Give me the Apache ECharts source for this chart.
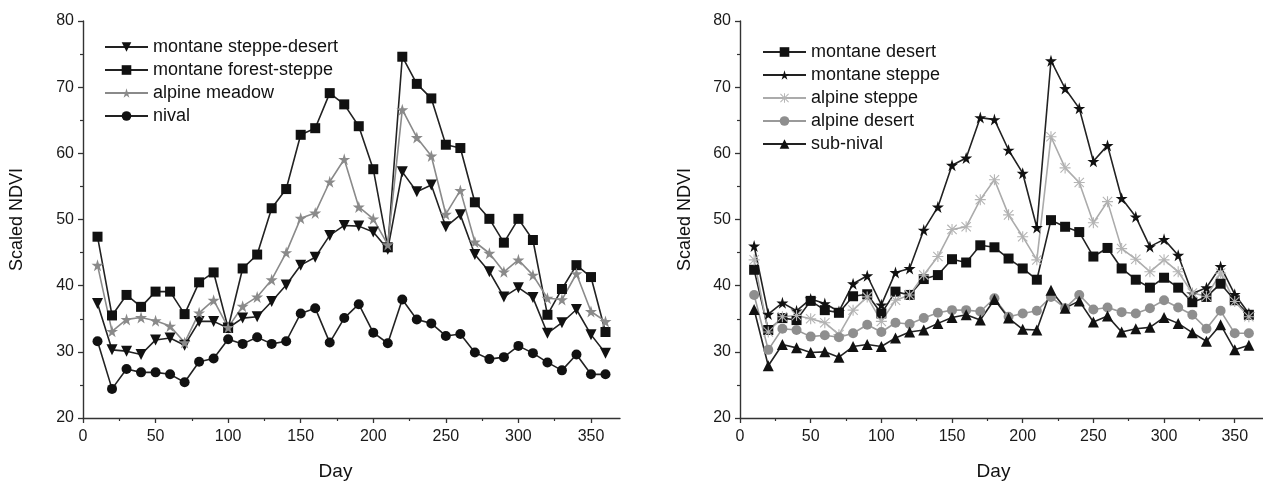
<!DOCTYPE html>
<html>
<head>
<meta charset="utf-8">
<script src="https://cdn.jsdelivr.net/npm/echarts@6/dist/echarts.min.js"></script>
<style>
  html, body { margin: 0; padding: 0; background: #fff; }
  #chart { width: 1263px; height: 487px; }
</style>
</head>
<body>
<div id="chart"></div>
<script>
// day of year (x values, shared by every series)
var days = [10, 20, 30, 40, 50, 60, 70, 80, 90, 100, 110, 120, 130, 140, 150, 160, 170, 180,
    190, 200, 210, 220, 230, 240, 250, 260, 270, 280, 290, 300, 310, 320, 330, 340, 350, 360];

var xTicks = [0, 50, 100, 150, 200, 250, 300, 350];

// left panel
var steppeDesert = [37.3, 30.3, 30.1, 29.6, 31.8, 32.1, 31.0, 34.6, 34.6, 33.6, 35.1, 35.3, 37.6, 40.1, 43.1, 44.3, 47.6, 49.1,
    49.0, 48.1, 45.5, 57.2, 54.2, 55.2, 48.9, 50.7, 44.7, 42.1, 38.3, 39.7, 38.2, 32.8, 34.4, 36.4, 32.6, 29.8];
var forestSteppe = [47.4, 35.5, 38.6, 36.8, 39.1, 39.1, 35.7, 40.5, 42.0, 33.6, 42.6, 44.7, 51.7, 54.6, 62.8, 63.8, 69.1, 67.4,
    64.1, 57.6, 45.8, 74.6, 70.5, 68.3, 61.3, 60.8, 52.6, 50.1, 46.5, 50.1, 46.9, 35.6, 39.5, 43.1, 41.3, 33.0];
var alpineMeadow = [43.1, 33.1, 34.9, 35.2, 34.7, 33.9, 31.4, 35.9, 37.8, 33.7, 36.9, 38.3, 40.9, 45.0, 50.2, 51.0, 55.7, 59.1,
    51.9, 50.1, 46.2, 66.6, 62.4, 59.6, 50.8, 54.4, 46.6, 44.9, 42.1, 43.9, 41.6, 38.1, 37.9, 41.8, 36.1, 34.6];
var nival = [31.6, 24.4, 27.4, 26.9, 26.9, 26.6, 25.4, 28.5, 29.0, 31.9, 31.2, 32.2, 31.2, 31.6, 35.8, 36.6, 31.4, 35.1,
    37.2, 32.9, 31.3, 37.9, 34.9, 34.3, 32.4, 32.7, 29.9, 28.9, 29.2, 30.9, 29.8, 28.4, 27.2, 29.6, 26.6, 26.6];

// right panel
var montaneDesert = [42.4, 33.3, 35.1, 34.8, 37.7, 36.3, 35.9, 38.4, 38.7, 35.8, 39.1, 38.6, 41.0, 41.6, 44.0, 43.5, 46.1, 45.8,
    44.1, 42.6, 40.9, 49.9, 48.9, 48.1, 44.4, 45.7, 42.6, 40.9, 39.7, 41.2, 39.7, 37.5, 38.3, 40.3, 37.8, 35.6];
var montaneSteppe = [46.0, 35.7, 37.4, 36.2, 38.0, 37.3, 36.1, 40.3, 41.5, 37.1, 42.0, 42.6, 48.4, 51.9, 58.2, 59.3, 65.4, 65.1,
    60.5, 57.0, 48.8, 74.0, 69.8, 66.8, 58.8, 61.2, 53.2, 50.4, 45.9, 47.0, 44.6, 38.8, 39.7, 42.9, 38.7, 35.8];
var alpineSteppe = [43.9, 33.0, 35.3, 35.5, 35.0, 34.4, 32.6, 36.3, 38.3, 34.6, 37.8, 38.6, 41.6, 44.4, 48.5, 48.9, 53.0, 56.0,
    50.7, 47.4, 43.9, 62.5, 57.8, 55.6, 49.5, 52.7, 45.6, 44.0, 42.1, 43.9, 42.1, 38.9, 38.4, 41.9, 37.6, 35.3];
var alpineDesert = [38.6, 30.3, 33.5, 33.3, 32.3, 32.5, 32.2, 32.8, 34.1, 33.0, 34.4, 34.2, 35.1, 35.9, 36.3, 36.3, 36.1, 38.1,
    35.3, 35.8, 36.2, 38.3, 36.6, 38.6, 36.4, 36.7, 36.0, 35.8, 36.6, 37.8, 36.7, 35.6, 33.5, 36.2, 32.8, 32.8];
var subNival = [36.4, 27.9, 31.1, 30.6, 29.9, 30.0, 29.2, 30.8, 31.1, 30.8, 32.1, 33.0, 33.3, 34.3, 35.2, 35.6, 34.8, 37.9,
    35.1, 33.4, 33.3, 39.3, 36.6, 37.7, 34.5, 35.4, 33.0, 33.5, 33.7, 35.2, 34.3, 32.9, 31.6, 34.1, 30.3, 31.0];

var STAR = 'path://M50,0 L61,35 L98,35 L68,57 L79,91 L50,70 L21,91 L32,57 L2,35 L39,35 Z';
var ASTER = 'path://M45,0 L55,0 L55,100 L45,100 Z M0,45 L100,45 L100,55 L0,55 Z ' +
    'M11,4 L96,89 L89,96 L4,11 Z M89,4 L96,11 L11,96 L4,89 Z';

var FONT = '"Liberation Sans", Arial, sans-serif';

function pairs(vals) {
    return days.map(function(d, i) { return [d, vals[i]]; });
}

function makeSeries(name, vals, idx, color, lineColor, symbol, size, rotate) {
    return {
        name: name,
        type: 'line',
        xAxisIndex: idx,
        yAxisIndex: idx,
        data: pairs(vals),
        symbol: symbol,
        symbolSize: size,
        symbolRotate: rotate || 0,
        showAllSymbol: true,
        lineStyle: { color: lineColor, width: 1.6 },
        itemStyle: { color: color, borderWidth: 0 },
        emphasis: { disabled: true },
        animation: false
    };
}

function xAxis(idx) {
    return {
        type: 'value', gridIndex: idx, min: 0, max: 370, interval: 50,
        name: 'Day', nameLocation: 'middle', nameGap: 44,
        nameTextStyle: { fontSize: 19, color: '#111', fontFamily: FONT, padding: idx === 0 ? [0, 32, 0, 0] : [0, 16, 0, 0] },
        axisLine: { show: true, lineStyle: { color: '#333', width: 1.4 } },
        axisTick: { show: true, length: 5, lineStyle: { color: '#333', width: 1.3 },
            customValues: xTicks },
        minorTick: { show: true, splitNumber: 2, length: 3, lineStyle: { color: '#333', width: 1.2 } },
        axisLabel: { fontSize: 16, color: '#1a1a1a', fontFamily: FONT, margin: 11, customValues: xTicks },
        splitLine: { show: false }
    };
}

function yAxis(idx) {
    return {
        type: 'value', gridIndex: idx, min: 20, max: 80, interval: 10,
        name: 'Scaled NDVI', nameLocation: 'middle', nameGap: idx === 0 ? 57 : 46,
        nameTextStyle: { fontSize: 18, color: '#111', fontFamily: FONT },
        axisLine: { show: true, lineStyle: { color: '#333', width: 1.4 } },
        axisTick: { show: true, length: 5, lineStyle: { color: '#333', width: 1.3 } },
        minorTick: { show: true, splitNumber: 2, length: 3, lineStyle: { color: '#333', width: 1.2 } },
        axisLabel: { fontSize: 16, color: '#1a1a1a', fontFamily: FONT, margin: 9 },
        splitLine: { show: false }
    };
}

function legend(names, left, top) {
    return {
        data: names,
        orient: 'vertical',
        left: left, top: top,
        itemWidth: 43, itemHeight: 12, itemGap: 3,
        textStyle: { fontSize: 18, color: '#111', fontFamily: FONT, lineHeight: 20 },
        selectedMode: false
    };
}

var chart = echarts.init(document.getElementById('chart'), null, { renderer: 'canvas' });

chart.setOption({
    backgroundColor: '#fff',
    animation: false,
    grid: [
        { left: 83, top: 21, width: 537, height: 397 },
        { left: 740, top: 21, width: 537, height: 397 }
    ],
    xAxis: [xAxis(0), xAxis(1)],
    yAxis: [yAxis(0), yAxis(1)],
    legend: [
        legend(['montane steppe-desert', 'montane forest-steppe', 'alpine meadow', 'nival'], 99, 32),
        legend(['montane desert', 'montane steppe', 'alpine steppe', 'alpine desert', 'sub-nival'], 757, 37)
    ],
    series: [
        makeSeries('montane steppe-desert', steppeDesert, 0, '#111', '#222', 'triangle', 11, 180),
        makeSeries('montane forest-steppe', forestSteppe, 0, '#111', '#222', 'rect', 10),
        makeSeries('alpine meadow', alpineMeadow, 0, '#8a8a8a', '#8a8a8a', STAR, 12),
        makeSeries('nival', nival, 0, '#111', '#222', 'circle', 10),

        makeSeries('montane desert', montaneDesert, 1, '#111', '#222', 'rect', 10),
        makeSeries('montane steppe', montaneSteppe, 1, '#111', '#222', STAR, 12),
        makeSeries('alpine steppe', alpineSteppe, 1, '#b4b4b4', '#ababab', ASTER, 11),
        makeSeries('alpine desert', alpineDesert, 1, '#8e8e8e', '#9a9a9a', 'circle', 10),
        makeSeries('sub-nival', subNival, 1, '#111', '#222', 'triangle', 11)
    ]
});
</script>
</body>
</html>
